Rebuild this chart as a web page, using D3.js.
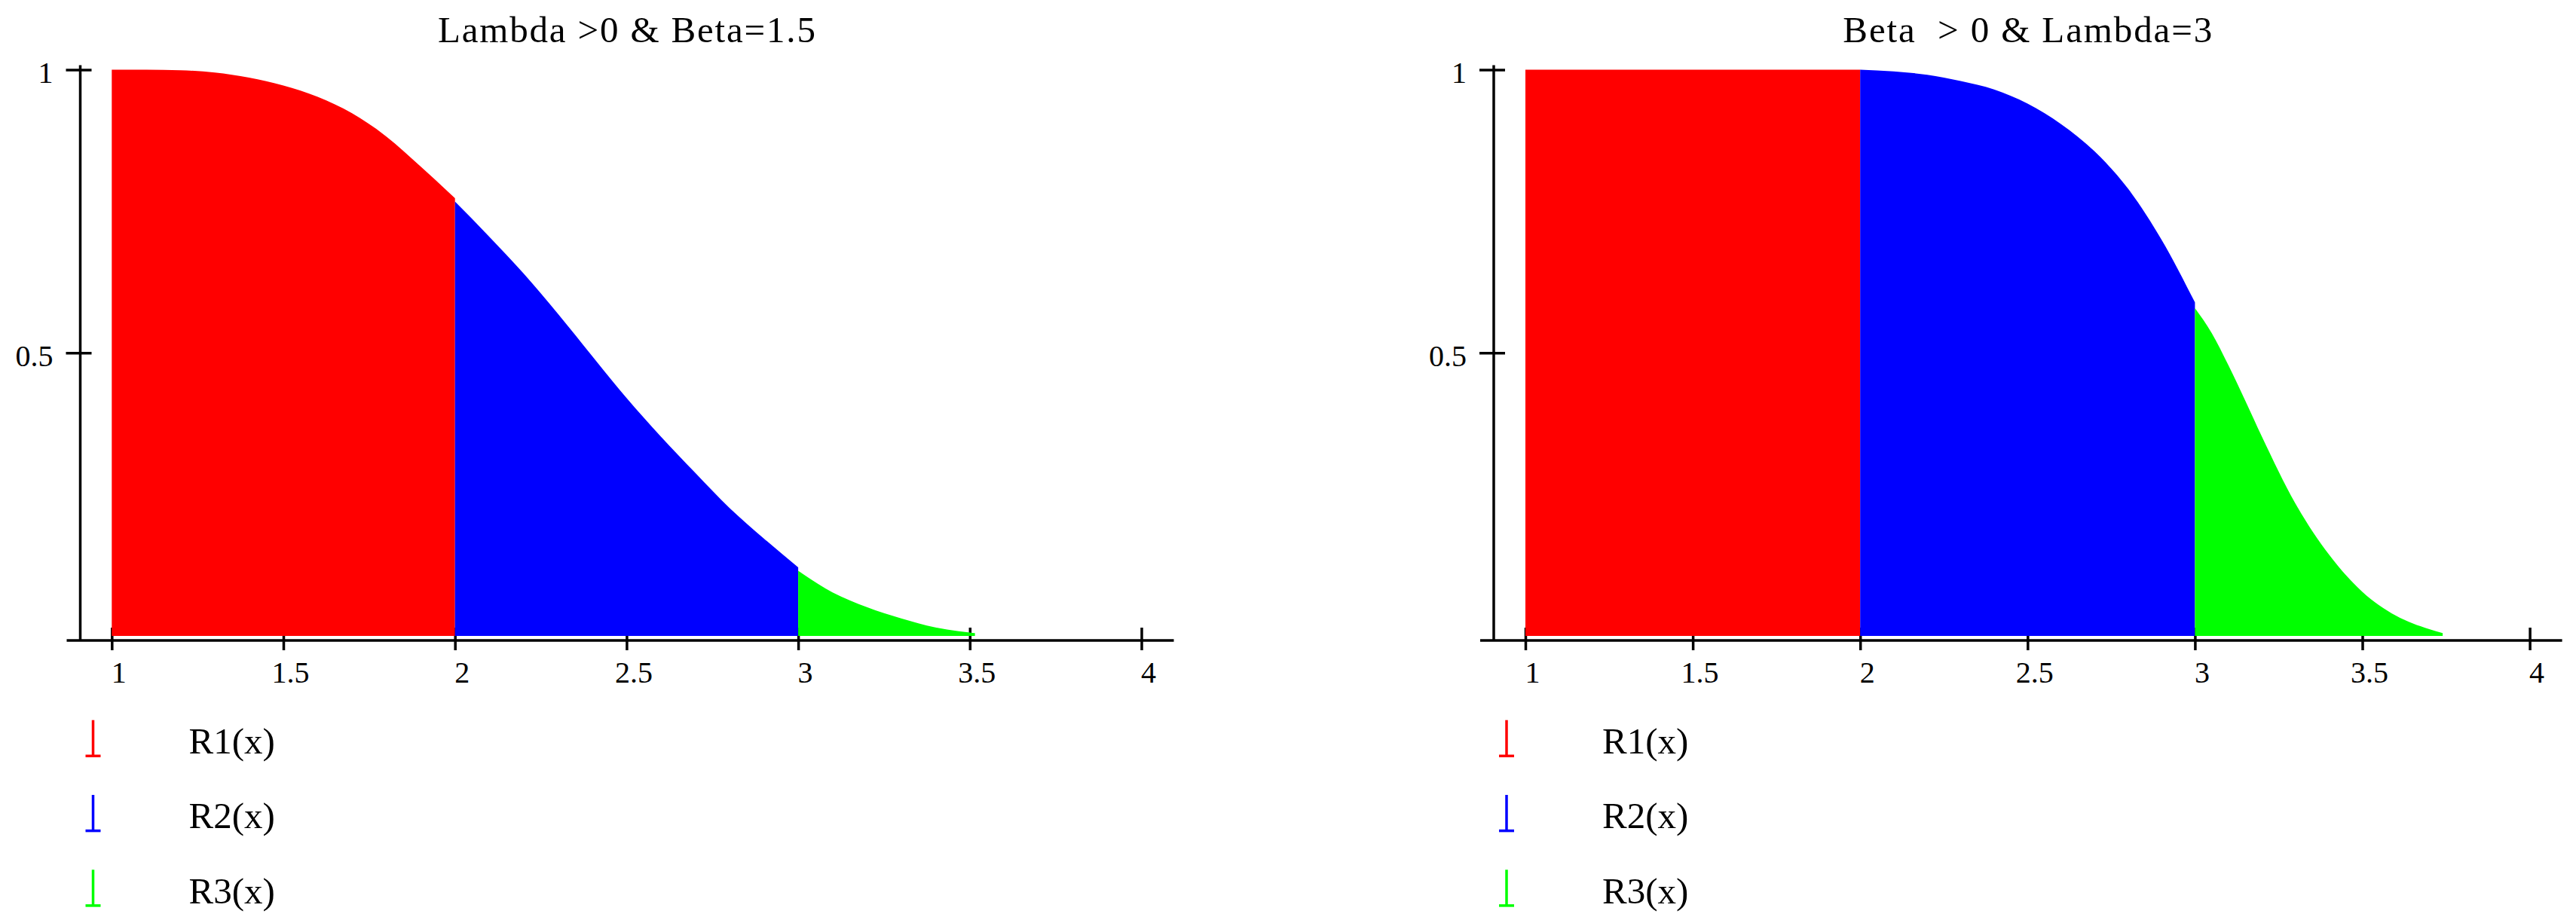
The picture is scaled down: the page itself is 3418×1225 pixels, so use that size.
<!DOCTYPE html>
<html>
<head>
<meta charset="utf-8">
<script src="https://cdn.jsdelivr.net/npm/d3@7"></script>
<style>
  body { margin: 0; background: #fff; }
</style>
</head>
<body>
<div id="chart"></div>
<script>
'use strict';

// axis ticks, titles and legend
var xTicks = [1, 1.5, 2, 2.5, 3, 3.5, 4];
var yTicks = [0.5, 1];
var legendLabels = ['R1(x)', 'R2(x)', 'R3(x)'];
var seriesColors = ['#ff0000', '#0000ff', '#00ff00'];
var titles = ['Lambda >0 & Beta=1.5', 'Beta  > 0 & Lambda=3'];

// left panel: Lambda > 0, Beta = 1.5
var lamR1X = [1.0, 1.1, 1.2, 1.3, 1.4, 1.5, 1.6, 1.7, 1.8, 1.9, 2.0];
var lamR1Y = [1.000, 1.000, 0.999, 0.995, 0.986, 0.972, 0.952, 0.923, 0.882, 0.829, 0.773];
var lamR2X = [2.0, 2.1, 2.2, 2.3, 2.4, 2.5, 2.6, 2.7, 2.8, 2.9, 3.0];
var lamR2Y = [0.767, 0.705, 0.640, 0.569, 0.494, 0.420, 0.352, 0.288, 0.226, 0.172, 0.121];
var lamR3X = [3.0, 3.1, 3.2, 3.3, 3.4, 3.5, 3.515];
var lamR3Y = [0.115, 0.077, 0.051, 0.031, 0.015, 0.006, 0.005];

// right panel: Beta > 0, Lambda = 3
var betR1X = [1.0, 1.5, 2.0];
var betR1Y = [1.000, 1.000, 1.000];
var betR2X = [2.0, 2.1, 2.2, 2.3, 2.4, 2.5, 2.6, 2.7, 2.8, 2.9, 3.0];
var betR2Y = [1.000, 0.997, 0.991, 0.980, 0.965, 0.940, 0.904, 0.856, 0.790, 0.700, 0.589];
var betR3X = [3.0, 3.05, 3.1, 3.15, 3.2, 3.3, 3.4, 3.5, 3.6, 3.7, 3.74];
var betR3Y = [0.579, 0.535, 0.478, 0.416, 0.352, 0.234, 0.144, 0.078, 0.036, 0.012, 0.005];

var serif = '"Liberation Serif", "Times New Roman", serif';

var svg = d3.select('#chart').append('svg')
  .attr('width', 3418)
  .attr('height', 1225);

function drawPanel(p) {
  var g = svg.append('g');
  var x = d3.scaleLinear().domain([1, 4]).range([p.left, p.right]);
  var y = d3.scaleLinear().domain([0, 1]).range([844, 92.5]);
  var axisY = y(0) + 6;

  // x ticks go in first, the fills sit on top of them
  var gx = g.append('g')
    .attr('transform', 'translate(0,' + axisY + ')')
    .call(d3.axisBottom(x).tickValues(xTicks).tickSize(13).tickFormat(d3.format('')));
  gx.select('.domain').remove();
  gx.attr('font-family', serif).attr('font-size', 40);
  gx.selectAll('.tick line').attr('y1', -17).attr('stroke', '#000').attr('stroke-width', 3.5);
  gx.selectAll('.tick text').attr('y', 55.5).attr('dy', null).attr('dx', 9).attr('fill', '#000');

  var area = d3.area()
    .x(function(d){ return x(d[0]); })
    .y0(y(0))
    .y1(function(d){ return y(d[1]); })
    .curve(d3.curveMonotoneX);

  p.series.forEach(function(s, i){
    g.append('path')
      .datum(d3.zip(s[0], s[1]))
      .attr('fill', seriesColors[i])
      .attr('d', area);
  });

  // axis lines
  g.append('line')
    .attr('x1', p.axisX - 18).attr('x2', x(4) + 43)
    .attr('y1', axisY).attr('y2', axisY)
    .attr('stroke', '#000').attr('stroke-width', 3.5);
  g.append('line')
    .attr('x1', p.axisX).attr('x2', p.axisX)
    .attr('y1', y(1) - 6).attr('y2', axisY)
    .attr('stroke', '#000').attr('stroke-width', 3.5);

  var gy = g.append('g')
    .attr('transform', 'translate(' + p.axisX + ',0)')
    .call(d3.axisLeft(y).tickValues(yTicks).tickSize(19).tickFormat(d3.format('')));
  gy.select('.domain').remove();
  gy.attr('font-family', serif).attr('font-size', 40);
  gy.selectAll('.tick line').attr('x1', 15).attr('stroke', '#000').attr('stroke-width', 3.5);
  gy.selectAll('.tick text').attr('x', -36).attr('y', 17).attr('dy', null).attr('fill', '#000');

  g.append('text')
    .attr('x', x(2.5))
    .attr('y', 56.4)
    .attr('text-anchor', 'middle')
    .attr('font-family', serif)
    .attr('font-size', 49)
    .attr('textLength', p.titleWidth)
    .attr('lengthAdjust', 'spacing')
    .style('white-space', 'pre')
    .text(p.title);

  // legend
  var leg = g.selectAll('.legend')
    .data(legendLabels)
    .enter().append('g')
    .attr('class', 'legend')
    .attr('transform', function(d, i){ return 'translate(' + p.axisX + ',' + (1000 + i * 99.3) + ')'; });
  leg.append('line')
    .attr('x1', 17).attr('x2', 17).attr('y1', -44.3).attr('y2', 3.3)
    .attr('stroke', function(d, i){ return seriesColors[i]; })
    .attr('stroke-width', 3.5);
  leg.append('line')
    .attr('x1', 7).attr('x2', 27).attr('y1', 3.3).attr('y2', 3.3)
    .attr('stroke', function(d, i){ return seriesColors[i]; })
    .attr('stroke-width', 3.5);
  leg.append('text')
    .attr('x', 144)
    .attr('font-family', serif)
    .attr('font-size', 49)
    .text(function(d){ return d; });
}

drawPanel({
  axisX: 106.5, left: 148.3, right: 1514.5,
  title: titles[0], titleWidth: 501,
  series: [[lamR1X, lamR1Y], [lamR2X, lamR2Y], [lamR3X, lamR3Y]]
});

drawPanel({
  axisX: 1982, left: 2024, right: 3356.6,
  title: titles[1], titleWidth: 490,
  series: [[betR1X, betR1Y], [betR2X, betR2Y], [betR3X, betR3Y]]
});
</script>
</body>
</html>
